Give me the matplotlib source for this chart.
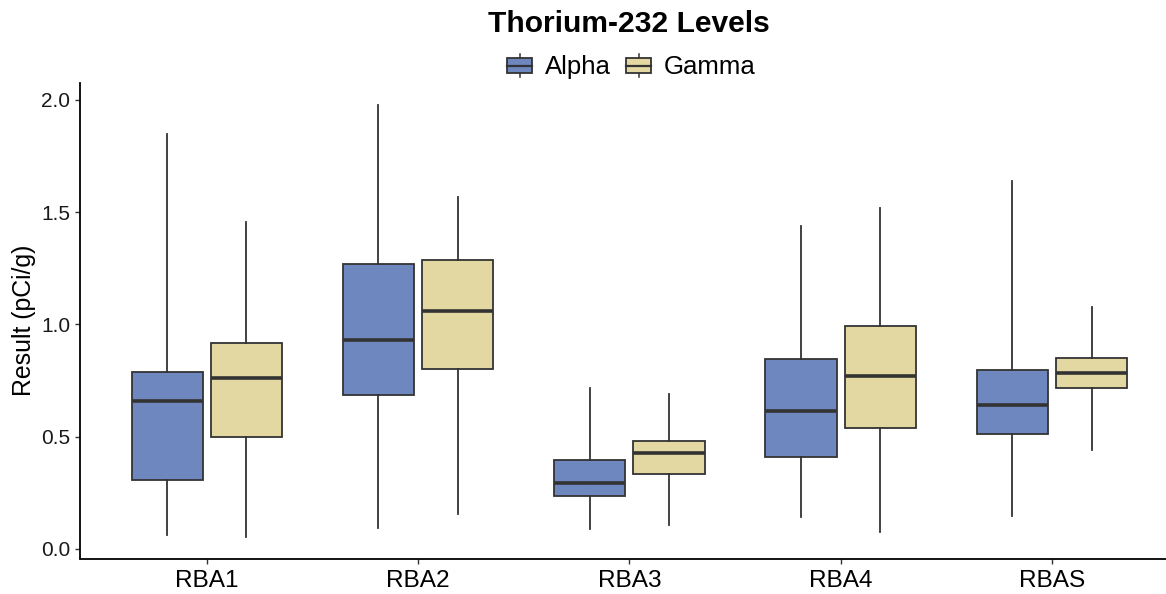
import matplotlib
matplotlib.use("Agg")
import matplotlib.pyplot as plt
from matplotlib.legend_handler import HandlerBase
from matplotlib.patches import Rectangle
from matplotlib.lines import Line2D

plt.rcParams['font.family'] = ['Liberation Sans', 'DejaVu Sans']

# Thorium-232 results (pCi/g) per sampling area
sites = ['RBA1', 'RBA2', 'RBA3', 'RBA4', 'RBAS']

alpha_low = [0.061, 0.094, 0.088, 0.140, 0.147]
alpha_q1 = [0.306, 0.683, 0.233, 0.407, 0.512]
alpha_med = [0.658, 0.930, 0.291, 0.612, 0.639]
alpha_q3 = [0.788, 1.271, 0.395, 0.845, 0.797]
alpha_high = [1.847, 1.979, 0.716, 1.436, 1.639]

gamma_low = [0.053, 0.155, 0.106, 0.076, 0.440]
gamma_q1 = [0.499, 0.802, 0.333, 0.536, 0.717]
gamma_med = [0.763, 1.060, 0.425, 0.768, 0.781]
gamma_q3 = [0.918, 1.287, 0.480, 0.992, 0.851]
gamma_high = [1.458, 1.568, 0.688, 1.518, 1.077]

alpha_color = '#6E87BF'
gamma_color = '#E3D8A2'
edge = '#333333'


def make_stats(low, q1, med, q3, high):
    return [dict(whislo=a, q1=b, med=c, q3=d, whishi=e, fliers=[])
            for a, b, c, d, e in zip(low, q1, med, q3, high)]


fig = plt.figure(figsize=(11.66, 5.94), dpi=100)
W, H = 1166, 594
ax = fig.add_axes([80 / W, 1 - 558.5 / H, 1098.8 / W, (558.5 - 83) / H])

pos = range(1, len(sites) + 1)
offset = 0.1875
bw = 0.3375
common = dict(widths=bw, patch_artist=True, showcaps=False,
              medianprops=dict(color=edge, linewidth=2.6, solid_capstyle='butt'),
              whiskerprops=dict(color=edge, linewidth=1.3),
              manage_ticks=False)

for stats, shift, col in [
        (make_stats(alpha_low, alpha_q1, alpha_med, alpha_q3, alpha_high), -offset, alpha_color),
        (make_stats(gamma_low, gamma_q1, gamma_med, gamma_q3, gamma_high), offset, gamma_color)]:
    ax.bxp(stats, positions=[p + shift for p in pos],
           boxprops=dict(facecolor=col, edgecolor=edge, linewidth=1.3), **common)

# ggplot-style 5% expansion around the data range
lo = min(alpha_low + gamma_low)
hi = max(alpha_high + gamma_high)
pad = 0.05 * (hi - lo)
ax.set_ylim(lo - pad, hi + pad)
ax.set_xlim(0.4, len(sites) + 0.6)

ax.set_xticks(list(pos))
ax.set_xticklabels(sites, fontsize=17.6, color='black')
ax.set_yticks([0.0, 0.5, 1.0, 1.5, 2.0])
ax.set_yticklabels(['0.0', '0.5', '1.0', '1.5', '2.0'], fontsize=15, color='#1a1a1a')
ax.tick_params(axis='both', length=3.5, width=1.0, color=edge)
ax.tick_params(axis='y', pad=3.5)
ax.tick_params(axis='x', pad=4.5)
ax.set_ylabel('Result (pCi/g)', fontsize=17.9, labelpad=3.5)

for side in ['top', 'right']:
    ax.spines[side].set_visible(False)
for side in ['left', 'bottom']:
    ax.spines[side].set_linewidth(1.3)
    ax.spines[side].set_color('black')

fig.text(629 / W, 1 - 32 / H, 'Thorium-232 Levels', fontsize=21.6,
         fontweight='bold', ha='center', va='baseline')


class BoxKey(HandlerBase):
    # small boxplot glyph for the legend keys
    def create_artists(self, legend, orig_handle, xdescent, ydescent,
                       width, height, fontsize, trans):
        x0, y0 = -xdescent, -ydescent
        b0, b1 = y0 + 0.17 * height, y0 + 0.83 * height
        xm = x0 + width / 2
        rect = Rectangle((x0, b0), width, b1 - b0, facecolor=orig_handle,
                         edgecolor=edge, linewidth=1.3, transform=trans)
        med = Line2D([x0, x0 + width], [(b0 + b1) / 2] * 2, color=edge,
                     linewidth=1.6, transform=trans)
        w1 = Line2D([xm, xm], [y0, b0], color=edge, linewidth=1.1, transform=trans)
        w2 = Line2D([xm, xm], [b1, y0 + height], color=edge, linewidth=1.1, transform=trans)
        return [w1, w2, rect, med]


fig.legend([alpha_color, gamma_color], ['Alpha', 'Gamma'],
           handler_map={str: BoxKey()}, loc='center',
           bbox_to_anchor=(631.5 / W, 1 - 66.5 / H), ncol=2, frameon=False,
           fontsize=18.5, handlelength=0.97, handleheight=1.05,
           handletextpad=0.5, columnspacing=0.6, borderpad=0, borderaxespad=0)

fig.savefig('out.png', dpi=100)
